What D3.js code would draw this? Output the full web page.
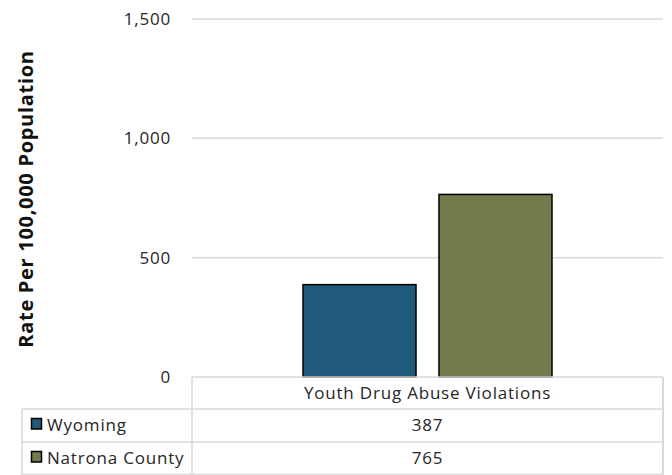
<!DOCTYPE html>
<html><head><meta charset="utf-8">
<script src="https://cdn.jsdelivr.net/npm/d3@7"></script>
<style>body{margin:0;background:#fff;}svg{display:block;font-family:"Open Sans",sans-serif;}</style>
</head><body><svg id="c" width="672" height="475"></svg>
<script>
const categories = ["Youth Drug Abuse Violations"];
const seriesNames = ["Wyoming", "Natrona County"];
const wyoming = [387];
const natrona = [765];
const seriesColors = ["#1F5A7A", "#737A4B"];
const yTicks = [0, 500, 1000, 1500];
const yTitle = "Rate Per 100,000 Population";

(function(){
const series = [wyoming, natrona];
const svg = d3.select("#c");
const pL = 192, pR = 663, pT = 19, pB = 377;
const fs = 17, ls = 0.8, tc = "#262626";
const y = d3.scaleLinear().domain([0, 1500]).range([pB, pT]);
const x0 = d3.scaleBand().domain(categories).range([pL, pR]).paddingInner(0).paddingOuter(0);
const x1 = d3.scaleBand().domain(seriesNames).range([x0.bandwidth()*0.2357, x0.bandwidth()*0.7643]).paddingInner(0.169);
const grid = "#d9d9d9";

svg.append("g").selectAll("line").data(yTicks.filter(d => d > 0)).join("line")
  .attr("x1", pL).attr("x2", pR)
  .attr("y1", d => y(d)).attr("y2", d => y(d))
  .attr("stroke", grid).attr("stroke-width", 1.5);

const yAxis = d3.axisLeft(y).tickValues(yTicks).tickFormat(d3.format(",")).tickSize(0).tickPadding(0);
const ya = svg.append("g").attr("transform", `translate(171,0)`).call(yAxis);
ya.select(".domain").remove();
ya.selectAll("text").attr("font-size", fs).attr("fill", tc).attr("font-family", "Open Sans")
  .attr("letter-spacing", ls);

svg.append("text").attr("transform", `translate(33,${(50+348)/2}) rotate(-90)`)
  .attr("text-anchor", "middle").attr("font-size", 20).attr("font-weight", "bold")
  .attr("letter-spacing", 0.7).attr("fill", "#111").text(yTitle);

categories.forEach((c, ci) => {
  seriesNames.forEach((s, si) => {
    const v = series[si][ci];
    svg.append("rect")
      .attr("x", x0(c) + x1(s)).attr("width", x1.bandwidth())
      .attr("y", y(v)).attr("height", y(0) - y(v))
      .attr("fill", seriesColors[si]).attr("stroke", "#000").attr("stroke-width", 1.5);
  });
});

const rowH = [377, 409, 442, 475];
const tl = 22;
const tg = svg.append("g").attr("stroke", grid).attr("stroke-width", 1.5).attr("fill", "none");
tg.append("line").attr("x1", pL).attr("x2", pR).attr("y1", rowH[0]).attr("y2", rowH[0]);
tg.append("line").attr("x1", tl).attr("x2", pR).attr("y1", rowH[1]).attr("y2", rowH[1]);
tg.append("line").attr("x1", tl).attr("x2", pR).attr("y1", rowH[2]).attr("y2", rowH[2]);
tg.append("line").attr("x1", tl).attr("x2", pR).attr("y1", rowH[3]-0.5).attr("y2", rowH[3]-0.5);
tg.append("line").attr("x1", pL).attr("x2", pL).attr("y1", rowH[0]).attr("y2", 475);
tg.append("line").attr("x1", tl).attr("x2", tl).attr("y1", rowH[1]).attr("y2", 475);
tg.append("line").attr("x1", pR).attr("x2", pR).attr("y1", rowH[0]).attr("y2", 475).attr("stroke-width", 2);

const txt = (g) => g.attr("font-size", fs).attr("fill", tc).attr("letter-spacing", ls);
categories.forEach((c) => {
  svg.append("text").attr("x", x0(c) + x0.bandwidth()/2).attr("y", (rowH[0]+rowH[1])/2)
    .attr("dy", "0.35em").attr("text-anchor", "middle").call(txt).text(c);
});
seriesNames.forEach((s, si) => {
  const cy = (rowH[si+1] + rowH[si+2]) / 2;
  svg.append("rect").attr("x", 31.5).attr("y", cy - 7).attr("width", 10).attr("height", 10.5)
    .attr("fill", seriesColors[si]).attr("stroke", "#000").attr("stroke-width", 1.5);
  svg.append("text").attr("x", 47).attr("y", cy).attr("dy", "0.35em").call(txt).text(s);
  categories.forEach((c, ci) => {
    svg.append("text").attr("x", x0(c) + x0.bandwidth()/2).attr("y", cy).attr("dy", "0.35em")
      .attr("text-anchor", "middle").call(txt)
      .text(d3.format(",")(series[si][ci]));
  });
});
})();
</script></body></html>
